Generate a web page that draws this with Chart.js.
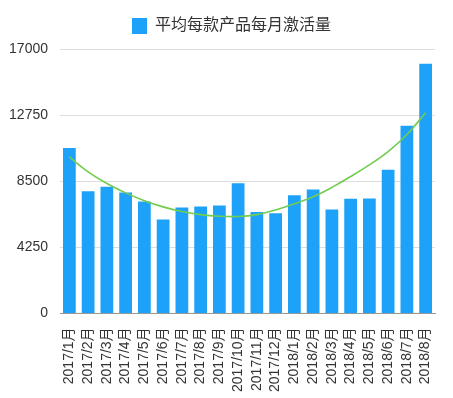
<!DOCTYPE html>
<html>
<head>
<meta charset="utf-8">
<script src="https://cdn.jsdelivr.net/npm/chart.js@4/dist/chart.umd.min.js"></script>
<style>
  html, body { margin: 0; padding: 0; background: #fff; }
  #wrap { width: 453px; height: 398px; }
</style>
</head>
<body>
<div id="wrap"><canvas id="activationChart" width="453" height="398"></canvas></div>
<script>
// categories and values
const months = ["2017/1月", "2017/2月", "2017/3月", "2017/4月", "2017/5月", "2017/6月", "2017/7月",
  "2017/8月", "2017/9月", "2017/10月", "2017/11月", "2017/12月", "2018/1月", "2018/2月",
  "2018/3月", "2018/4月", "2018/5月", "2018/6月", "2018/7月", "2018/8月"];
const activations = [10640, 7860, 8140, 7780, 7200, 6030, 6810, 6870, 6940, 8360,
  6525, 6440, 7600, 7970, 6680, 7365, 7390, 9240, 12060, 16050];
// green trend curve, read at each month
const trend = [10060, 9100, 8350, 7750, 7250, 6850, 6550, 6350, 6250, 6230,
  6350, 6650, 7050, 7500, 8100, 8800, 9550, 10400, 11500, 12900];
const yTicks = [0, 4250, 8500, 12750, 17000];
const legendLabel = "平均每款产品每月激活量";

const font = "'Liberation Sans', Arial, 'Noto Sans CJK SC', sans-serif";

// a bit more room under the legend, and legend nudged right
const legendTweak = {
  id: "legendTweak",
  beforeInit(chart) {
    const fit = chart.legend.fit;
    chart.legend.fit = function() {
      fit.bind(chart.legend)();
      this.height += 5;
    };
  },
  afterLayout(chart) {
    chart.legend.left += 14;
    chart.legend.right += 14;
  }
};

const ctx = document.getElementById("activationChart").getContext("2d");
new Chart(ctx, {
  type: "bar",
  data: {
    labels: months,
    datasets: [
      {
        type: "line",
        label: "trend",
        data: trend,
        borderColor: "#72cc4f",
        borderWidth: 1.6,
        pointRadius: 0,
        fill: false,
        tension: 0.4,
        order: 0
      },
      {
        label: legendLabel,
        data: activations,
        backgroundColor: "#1ea2f9",
        barPercentage: 0.68,
        categoryPercentage: 1,
        order: 1
      }
    ]
  },
  options: {
    responsive: false,
    animation: false,
    layout: { padding: { left: 0, right: 18, top: 5, bottom: 0 } },
    plugins: {
      tooltip: { enabled: false },
      legend: {
        position: "top",
        labels: {
          filter: item => item.text === legendLabel,
          boxWidth: 15,
          boxHeight: 16,
          color: "#333",
          font: { family: font, size: 16 },
          padding: 13
        }
      }
    },
    scales: {
      x: {
        grid: { display: false },
        border: { color: "#999" },
        ticks: {
          color: "#333",
          font: { family: font, size: 14 },
          minRotation: 90,
          maxRotation: 90,
          autoSkip: false,
          padding: 6
        }
      },
      y: {
        min: 0,
        max: 17000,
        afterBuildTicks: axis => { axis.ticks = yTicks.map(v => ({ value: v })); },
        afterFit: axis => { axis.width = 60; },
        grid: { color: "#dddddd", drawTicks: false },
        border: { display: false },
        ticks: {
          color: "#333",
          font: { family: font, size: 14 },
          padding: 12,
          callback: v => String(v)
        }
      }
    }
  },
  plugins: [legendTweak]
});
</script>
</body>
</html>
